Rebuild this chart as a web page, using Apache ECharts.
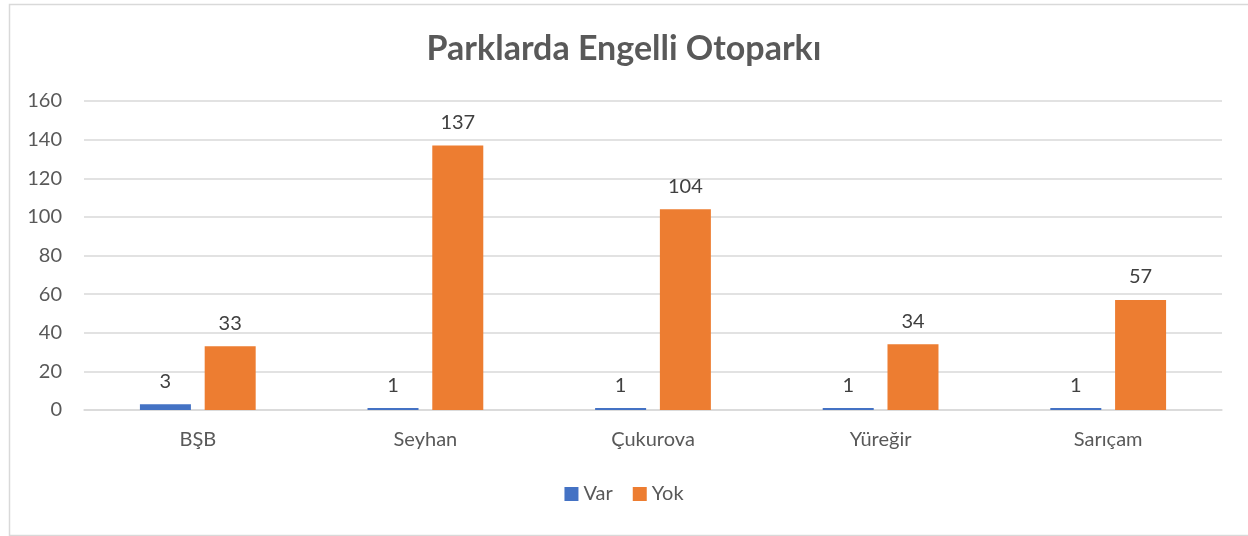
<!DOCTYPE html>
<html>
<head>
<meta charset="utf-8">
<script src="https://cdn.jsdelivr.net/npm/echarts@6/dist/echarts.min.js"></script>
<style>
html,body{margin:0;padding:0;background:#fff;}
#c{width:1248px;height:536px;}
</style>
</head>
<body>
<div id="c"></div>
<script>
const categories = ['BŞB', 'Seyhan', 'Çukurova', 'Yüreğir', 'Sarıçam'];
const varValues = [3, 1, 1, 1, 1];
const yokValues = [33, 137, 104, 34, 57];
const seriesNames = ['Var', 'Yok'];
const titleText = 'Parklarda Engelli Otoparkı';

const FONT = 'Lato, "Open Sans", sans-serif';
const chart = echarts.init(document.getElementById('c'), null, {renderer: 'canvas'});
const labelStyle = {show: true, position: 'top', distance: 13, color: '#404040', fontSize: 20, fontFamily: FONT};
chart.setOption({
  animation: false,
  backgroundColor: '#fff',
  graphic: [{
    type: 'rect', left: 7, top: 2, silent: true,
    shape: {width: 1260, height: 531},
    style: {fill: 'none', stroke: '#d9d9d9', lineWidth: 1.5}
  }],
  title: {
    text: titleText, left: 'center', top: 27,
    textStyle: {color: '#595959', fontSize: 34, fontWeight: 'bold', fontFamily: FONT}
  },
  legend: {
    data: seriesNames, bottom: 27, left: 'center', itemWidth: 14, itemHeight: 14, itemGap: 20,
    icon: 'rect',
    textStyle: {color: '#595959', fontSize: 20, fontFamily: FONT}
  },
  grid: {left: 84, right: 26, top: 101, bottom: 126, containLabel: false},
  xAxis: {
    type: 'category', data: categories,
    axisLine: {lineStyle: {color: '#d9d9d9', width: 1.5}},
    axisTick: {show: false},
    axisLabel: {color: '#595959', fontSize: 20, fontFamily: FONT, margin: 20}
  },
  yAxis: {
    type: 'value', min: 0, max: 160, interval: 20,
    axisLine: {show: false}, axisTick: {show: false},
    axisLabel: {color: '#595959', fontSize: 20, fontFamily: FONT, margin: 22},
    splitLine: {lineStyle: {color: '#d9d9d9', width: 1.5}}
  },
  series: [
    {name: 'Var', type: 'bar', data: varValues, barWidth: 51, barGap: '27%',
     itemStyle: {color: '#4472C4'}, label: labelStyle},
    {name: 'Yok', type: 'bar', data: yokValues, barWidth: 51,
     itemStyle: {color: '#ED7D31'}, label: labelStyle}
  ]
});
</script>
</body>
</html>
